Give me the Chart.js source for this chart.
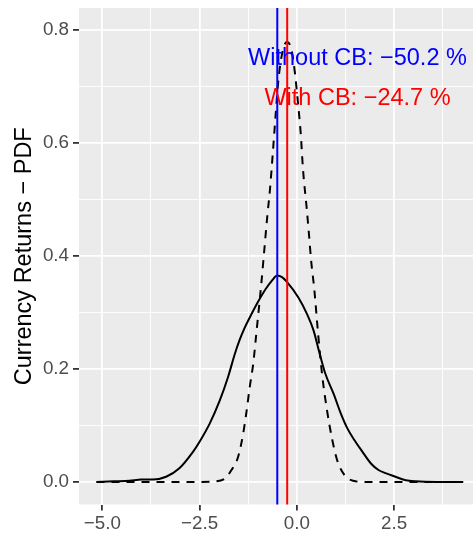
<!DOCTYPE html>
<html lang="en">

<head>
    <meta charset="UTF-8">
    <title>Currency Returns - PDF</title>
    <style>
        html, body {
            margin: 0;
            padding: 0;
            background: #ffffff;
        }

        canvas {
            display: block;
        }
    </style>
</head>

<body>
    <canvas id="chart" width="473" height="537"></canvas>

    <script src="https://cdn.jsdelivr.net/npm/chart.js"></script>
    <script>
        // solid density (without CB)
        const solidX = [-5.15, -4.7, -4.3, -4.0, -3.7, -3.36, -3.02, -2.67, -2.5, -2.24, -1.98, -1.77, -1.59, -1.47, -1.35,
            -1.2, -1.0, -0.8, -0.65, -0.5, -0.38, -0.26, 0.04, 0.26, 0.43, 0.56, 0.73, 0.95, 1.12, 1.29, 1.47, 1.68, 1.9,
            2.1, 2.3, 2.5, 2.8, 3.06, 3.6, 4.28];
        const solidY = [0, 0.001, 0.002, 0.004, 0.004, 0.009, 0.024, 0.053, 0.071, 0.103, 0.144, 0.185, 0.227, 0.251, 0.271,
            0.292, 0.318, 0.341, 0.355, 0.365, 0.362, 0.354, 0.326, 0.297, 0.268, 0.234, 0.192, 0.155, 0.123, 0.096, 0.075,
            0.054, 0.033, 0.021, 0.015, 0.010, 0.003, 0.001, 0, 0];

        // dashed density (with CB)
        const dashedX = [-5.15, -2.5, -2.1, -1.85, -1.68, -1.51, -1.38, -1.29, -1.21, -1.12, -1.05, -0.99, -0.92, -0.86,
            -0.76, -0.69, -0.61, -0.54, -0.48, -0.39, -0.26, -0.14, -0.05, 0.03, 0.10, 0.16, 0.25, 0.31, 0.37, 0.45, 0.55,
            0.65, 0.78, 0.91, 1.03, 1.15, 1.3, 1.45, 1.7, 4.28];
        const dashedY = [0, 0, 0.001, 0.006, 0.021, 0.044, 0.085, 0.126, 0.168, 0.209, 0.256, 0.297, 0.345, 0.391,
            0.469, 0.517, 0.588, 0.653, 0.706, 0.753, 0.778, 0.765, 0.724, 0.670, 0.617, 0.552, 0.487, 0.44, 0.39, 0.34,
            0.26, 0.19, 0.125, 0.075, 0.04, 0.02, 0.007, 0.002, 0, 0];

        // means
        const meanWithout = -0.502;
        const meanWith = -0.247;

        // annotations
        const noteText = ['Without CB: \u221250.2 %', 'With CB: \u221224.7 %'];
        const noteX = [1.56, 1.56];
        const noteY = [0.749, 0.678];

        // axes
        const xMajor = [-5, -2.5, 0, 2.5];
        const xMinor = [-3.75, -1.25, 1.25, 3.75];
        const xLabels = ['\u22125.0', '\u22122.5', '0.0', '2.5'];
        const yMajor = [0, 0.2, 0.4, 0.6, 0.8];
        const yMinor = [0.1, 0.3, 0.5, 0.7];
        const yLabels = ['0.0', '0.2', '0.4', '0.6', '0.8'];

        const FONT = '"Liberation Sans", Arial, Helvetica, sans-serif';

        function toPoints(xs, ys) {
            return xs.map((x, i) => ({ x: x, y: ys[i] }));
        }

        function isMajor(list, v) {
            return list.some(m => Math.abs(m - v) < 1e-9);
        }

        function axis(major, minor, labels, min, max, fitSide) {
            return {
                type: 'linear',
                min: min,
                max: max,
                border: { display: false },
                afterBuildTicks: function (scale) {
                    scale.ticks = major.concat(minor).sort((a, b) => a - b).map(v => ({ value: v }));
                },
                ticks: {
                    autoSkip: false,
                    maxRotation: 0,
                    color: '#4D4D4D',
                    font: { family: FONT, size: 18.8 },
                    padding: fitSide === 'x' ? 2 : 4,
                    callback: function (value) {
                        const i = major.findIndex(m => Math.abs(m - value) < 1e-9);
                        return i >= 0 ? labels[i] : '';
                    }
                },
                grid: {
                    color: '#FFFFFF',
                    lineWidth: c => isMajor(major, c.tick.value) ? 1.8 : 0.9,
                    drawTicks: true,
                    tickLength: 6,
                    tickWidth: 1.8,
                    tickColor: c => isMajor(major, c.tick.value) ? '#333333' : 'rgba(0,0,0,0)'
                }
            };
        }

        // grey panel + text labels
        const ggPanel = {
            id: 'ggPanel',
            beforeDraw(chart) {
                const a = chart.chartArea;
                const ctx = chart.ctx;
                ctx.save();
                ctx.fillStyle = '#EBEBEB';
                ctx.fillRect(a.left, a.top, a.right - a.left, a.bottom - a.top);
                ctx.restore();
            },
            afterDatasetsDraw(chart) {
                const ctx = chart.ctx;
                const colors = ['#0000FF', '#FF0000'];
                ctx.save();
                ctx.font = '23.5px ' + FONT;
                ctx.textAlign = 'center';
                ctx.textBaseline = 'middle';
                noteText.forEach((t, i) => {
                    ctx.fillStyle = colors[i];
                    ctx.fillText(t, chart.scales.x.getPixelForValue(noteX[i]), chart.scales.y.getPixelForValue(noteY[i]));
                });
                ctx.restore();
            }
        };

        const xScale = axis(xMajor, xMinor, xLabels, -5.6, 4.53, 'x');
        xScale.afterFit = s => {
            s.height = 32.5;
            s.paddingLeft = 0;
            s.paddingRight = 0;
        };
        const yScale = axis(yMajor, yMinor, yLabels, -0.04, 0.838, 'y');
        yScale.afterFit = s => {
            s.width = 79;
            s.paddingTop = 0;
            s.paddingBottom = 0;
        };
        yScale.title = {
            display: true,
            text: 'Currency Returns \u2212 PDF',
            color: '#000000',
            font: { family: FONT, size: 23.5 },
            padding: { top: 10, bottom: 0 }
        };

        new Chart(document.getElementById('chart').getContext('2d'), {
            type: 'scatter',
            data: {
                datasets: [
                    {
                        data: [{ x: meanWithout, y: -0.05 }, { x: meanWithout, y: 0.9 }],
                        borderColor: '#0000FF',
                        borderWidth: 2,
                        order: 0
                    },
                    {
                        data: [{ x: meanWith, y: -0.05 }, { x: meanWith, y: 0.9 }],
                        borderColor: '#FF0000',
                        borderWidth: 2,
                        order: 0
                    },
                    {
                        data: toPoints(dashedX, dashedY),
                        borderColor: '#000000',
                        borderWidth: 2,
                        borderDash: [8, 7],
                        cubicInterpolationMode: 'monotone',
                        order: 1
                    },
                    {
                        data: toPoints(solidX, solidY),
                        borderColor: '#000000',
                        borderWidth: 2,
                        cubicInterpolationMode: 'monotone',
                        order: 2
                    }
                ]
            },
            options: {
                responsive: false,
                animation: false,
                showLine: true,
                clip: 0,
                elements: {
                    point: { radius: 0, hoverRadius: 0 },
                    line: { fill: false, borderCapStyle: 'butt' }
                },
                layout: { padding: { top: 8, right: 0, bottom: 0, left: 0 } },
                plugins: {
                    legend: { display: false },
                    tooltip: { enabled: false }
                },
                scales: { x: xScale, y: yScale }
            },
            plugins: [ggPanel]
        });
    </script>
</body>

</html>
